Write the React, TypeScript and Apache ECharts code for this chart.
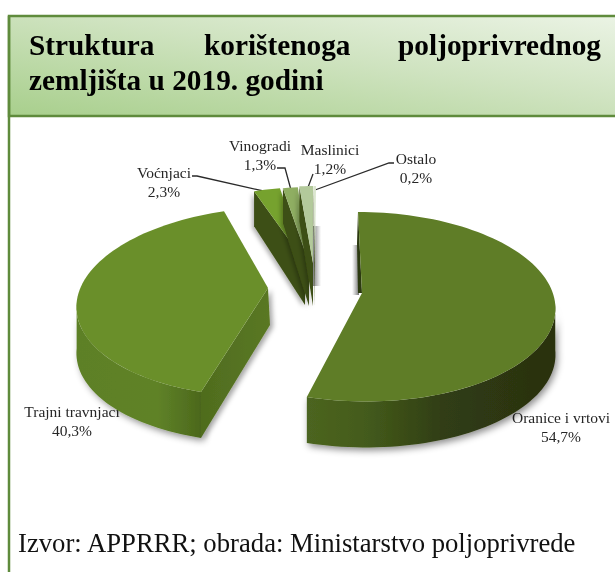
import React, { useEffect, useRef } from "react";
import * as echarts from "echarts";

const categories = ["Oranice i vrtovi", "Trajni travnjaci", "Voćnjaci", "Vinogradi", "Maslinici", "Ostalo"];
const shares = [54.7, 40.3, 2.3, 1.3, 1.2, 0.2];
const titleWords = ["Struktura", "korištenoga", "poljoprivrednog"];
const titleLine2 = "zemljišta u 2019. godini";
const sourceNote = "Izvor: APPRRR; obrada: Ministarstvo poljoprivrede";

// exploded-pie layout: ellipse centre and inner corner of every slice
const centres = [[362, 302], [270.5, 297], [311, 277], [314, 277], [315.5, 276], [316, 276]];
const apexes = [[362, 293], [268, 288], [305, 262], [309, 263], [313, 263], [315, 263]];
const shearX = [-4, 11, 0, 0, 0, 0];
const topColors = ["#5f7d27", "#6a8f2a", "#76a22e", "#8fae62", "#b3c99b", "#dbe6cf"];
const labelPos = [[561, 417], [72, 411], [164, 172], [260, 145], [330, 149], [416, 158]];
const RX = 193, RY = 94.5, K = 0.05, DEPTH = 46;
const FONT = "Liberation Serif";

const total = shares.reduce((a, b) => a + b, 0);
const fmt = (v: number) => v.toFixed(1).replace(".", ",") + "%";

function project(i: number, deg: number, dy = 0) {
  const t = (deg * Math.PI) / 180;
  const X = Math.sin(t), Z = -Math.cos(t);
  const s = 1 / (1 - K * Z);
  return [centres[i][0] + RX * X * s - shearX[i] * Z, centres[i][1] + RY * Z * s + dy];
}
function arc(i: number, a: number, b: number, dy = 0) {
  const pts: number[][] = [];
  const n = Math.max(2, Math.ceil(Math.abs(b - a) / 2));
  for (let k = 0; k <= n; k++) pts.push(project(i, a + ((b - a) * k) / n, dy));
  return pts;
}

function renderSlice(params: any, api: any) {
  const i = params.dataIndex;
  const value = api.value(0);
  let start = 0;
  for (let k = 0; k < i; k++) start += (shares[k] / total) * 360;
  const end = start + (value / total) * 360;
  const ax = apexes[i][0], ay = apexes[i][1];
  const children: any[] = [];
  const grad = (stops: [number, string][]) =>
    new echarts.graphic.LinearGradient(0, 0, 1, 0, stops.map(([offset, color]) => ({ offset, color })));

  // back cut of the large right slice shows as a thin dark strip
  if (i === 0) {
    const p = project(i, start);
    children.push({
      type: "polygon",
      shape: { points: [p, [ax, ay], [ax - 4, ay], [p[0] - 1, ay - 50]] },
      style: { fill: "#2c3a10" },
    });
  }
  // outer wall, only the part that faces the viewer (silhouette tangents include the shear)
  const tilt = (Math.atan(shearX[i] / RX) * 180) / Math.PI;
  const ws = Math.max(start, 90 - tilt), we = Math.min(end, 270 - tilt);
  if (we > ws) {
    const wallPts = [...arc(i, ws, we), ...arc(i, we, ws, DEPTH)];
    children.push({
      type: "polygon",
      shape: { points: wallPts },
      style: {
        fill: i === 0
          ? grad([[0, "#4c6520"], [0.25, "#435a1b"], [0.55, "#303d13"], [1, "#2a3010"]])
          : grad([[0, "#5d8026"], [0.65, "#5f8228"], [1, "#4c681c"]]),
        shadowColor: "rgba(0,0,0,0.45)", shadowBlur: 7, shadowOffsetY: 3, shadowOffsetX: i === 0 ? 2 : 3,
      },
    });
  }
  // cut face toward the viewer
  if (i === 1) {
    const p = project(i, start);
    children.push({
      type: "polygon",
      shape: { points: [[ax, ay], p, [p[0], p[1] + DEPTH], [ax + 2, ay + 37]] },
      style: {
        fill: grad([[0, "#4f6c1e"], [1, "#5a7824"]]),
        shadowColor: "rgba(0,0,0,0.35)", shadowBlur: 5, shadowOffsetX: 3, shadowOffsetY: 2,
      },
    });
  }
  if (i >= 2) {
    const p = project(i, start);
    children.push({
      type: "polygon",
      shape: { points: [[ax, ay], p, [p[0], p[1] + DEPTH - 11], [ax, ay + 43]] },
      style: {
        fill: "#3d4f14",
        shadowColor: "rgba(0,0,0,0.3)", shadowBlur: 4, shadowOffsetX: -2, shadowOffsetY: 2,
      },
    });
  }
  // top surface
  children.push({
    type: "polygon",
    shape: { points: [[ax, ay], ...arc(i, start, end)] },
    style: { fill: topColors[i] },
  });
  return { type: "group", children };
}

const leaders: number[][][] = [
  [[394, 163], [389, 163], [315, 190]],
  [[313, 174], [307, 190]],
  [[277, 168], [285, 168], [291, 190]],
  [[192, 176], [197, 176], [268, 192]],
];
// soft grey shadows cast next to the thin slices and the right slice: x, y, w, h, fade direction
const shadowRects = [
  [313, 226, 8, 60, 1],
  [352, 245, 7, 50, -1],
];

export default function App() {
  const ref = useRef<HTMLDivElement>(null);
  useEffect(() => {
    const chart = echarts.init(ref.current!, undefined, { renderer: "svg" });
    const text = (x: number, y: number, t: string, font: string, align = "center", fill = "#262626") => ({
      type: "text", x, y, silent: true,
      style: { text: t, font, fill, textAlign: align, textVerticalAlign: "middle" },
    });
    const elements: any[] = [
      {
        type: "rect", shape: { x: 9, y: 16, width: 630, height: 100 },
        style: {
          stroke: "#5f8b3c", lineWidth: 2.5,
          fill: new echarts.graphic.LinearGradient(0, 1, 1, 0, [
            { offset: 0, color: "#a8cf8c" },
            { offset: 0.55, color: "#cfe3c0" },
            { offset: 1, color: "#ecf4e6" },
          ]),
        },
      },
      { type: "line", shape: { x1: 9, y1: 16, x2: 9, y2: 572 }, style: { stroke: "#5f8b3c", lineWidth: 2.5 } },
      text(29, 45, titleWords[0], `bold 29.3px '${FONT}'`, "left", "#000"),
      text(204, 45, titleWords[1], `bold 29.3px '${FONT}'`, "left", "#000"),
      text(601, 45, titleWords[2], `bold 29.3px '${FONT}'`, "right", "#000"),
      text(29, 80, titleLine2, `bold 29.3px '${FONT}'`, "left", "#000"),
      text(18, 543, sourceNote, `26.7px '${FONT}'`, "left", "#111"),
      ...shadowRects.map(([x, y, width, height, dir]) => ({
        type: "rect", shape: { x, y, width, height },
        style: {
          fill: new echarts.graphic.LinearGradient(0, 0, 1, 0, [
            { offset: 0, color: dir > 0 ? "rgba(110,110,110,0.85)" : "rgba(120,120,120,0)" },
            { offset: 1, color: dir > 0 ? "rgba(120,120,120,0)" : "rgba(90,90,90,0.85)" },
          ]),
        },
      })),
      ...leaders.map((pts) => ({
        type: "polyline", shape: { points: pts },
        style: { stroke: "#2a2a2a", lineWidth: 1.3, fill: "none" },
      })),
      ...categories.flatMap((c, i) => [
        text(labelPos[i][0], labelPos[i][1], c, `15.5px '${FONT}'`),
        text(labelPos[i][0], labelPos[i][1] + 19, fmt(shares[i]), `15.5px '${FONT}'`),
      ]),
    ];
    chart.setOption({
      animation: false,
      graphic: { elements: elements.map((e) => ({ ...e, z: 1 })) },
      series: [
        {
          type: "custom",
          coordinateSystem: "none",
          renderItem: renderSlice,
          silent: true,
          z: 2,
          data: shares.map((v, i) => ({ name: categories[i], value: [v] })),
        },
      ],
    });
    return () => chart.dispose();
  }, []);
  return <div ref={ref} style={{ position: "fixed", left: 0, top: 0, width: 615, height: 572 }} />;
}
